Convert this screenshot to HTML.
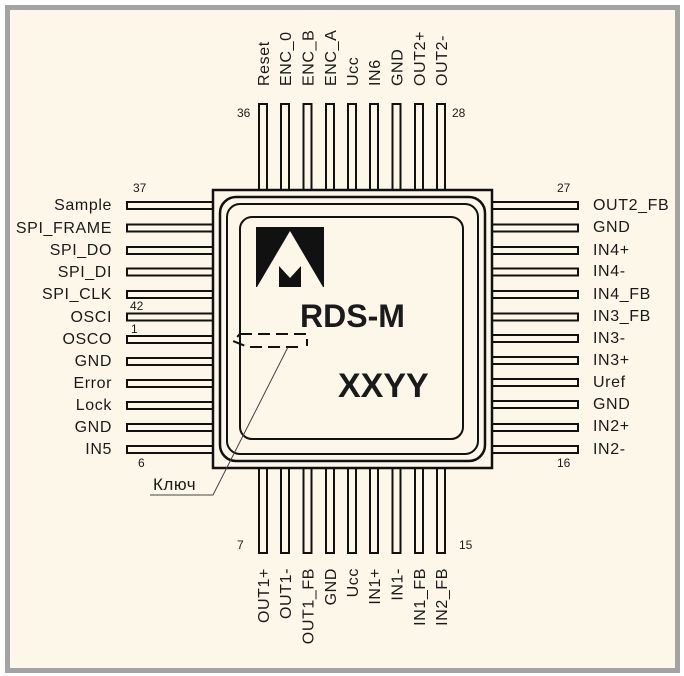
<!DOCTYPE html>
<html><head><meta charset="utf-8"><style>
html,body{margin:0;padding:0;background:#fff;}
svg{display:block;}
text{font-family:"Liberation Sans",Arial,sans-serif;fill:#1a1a1a;}
.lb{font-size:16px;letter-spacing:0.6px;}
</style></head><body>
<svg width="684" height="676" viewBox="0 0 684 676" xmlns="http://www.w3.org/2000/svg">
<rect x="0" y="0" width="684" height="676" fill="#ffffff"/>
<rect x="7.5" y="7.5" width="670" height="663" fill="#fdf7ea" stroke="#a3a3a3" stroke-width="5"/>
<g fill="#fdf7ea" stroke="#111" stroke-width="2">
<rect x="259" y="104" width="8" height="86"/><rect x="281" y="104" width="8" height="86"/><rect x="303.5" y="104" width="8" height="86"/><rect x="326" y="104" width="8" height="86"/><rect x="348" y="104" width="8" height="86"/><rect x="370" y="104" width="8" height="86"/><rect x="392.5" y="104" width="8" height="86"/><rect x="415" y="104" width="8" height="86"/><rect x="437" y="104" width="8" height="86"/>
<rect x="259" y="468" width="8" height="85"/><rect x="281" y="468" width="8" height="85"/><rect x="303.5" y="468" width="8" height="85"/><rect x="326" y="468" width="8" height="85"/><rect x="348" y="468" width="8" height="85"/><rect x="370" y="468" width="8" height="85"/><rect x="392.5" y="468" width="8" height="85"/><rect x="415" y="468" width="8" height="85"/><rect x="437" y="468" width="8" height="85"/>
<rect x="127" y="202" width="87" height="7"/><rect x="127" y="224.5" width="87" height="7"/><rect x="127" y="247" width="87" height="7"/><rect x="127" y="268.5" width="87" height="7"/><rect x="127" y="291" width="87" height="7"/><rect x="127" y="313.5" width="87" height="7"/><rect x="127" y="336" width="87" height="7"/><rect x="127" y="358" width="87" height="7"/><rect x="127" y="380" width="87" height="7"/><rect x="127" y="402" width="87" height="7"/><rect x="127" y="424" width="87" height="7"/><rect x="127" y="446" width="87" height="7"/>
<rect x="491" y="202" width="87" height="7"/><rect x="491" y="224.5" width="87" height="7"/><rect x="491" y="247" width="87" height="7"/><rect x="491" y="268.5" width="87" height="7"/><rect x="491" y="291" width="87" height="7"/><rect x="491" y="313.5" width="87" height="7"/><rect x="491" y="335" width="87" height="7"/><rect x="491" y="357" width="87" height="7"/><rect x="491" y="379" width="87" height="7"/><rect x="491" y="401" width="87" height="7"/><rect x="491" y="424" width="87" height="7"/><rect x="491" y="446" width="87" height="7"/>
<rect x="213" y="190" width="279" height="278" stroke-width="2.5"/>
<rect x="220" y="197" width="265" height="264" rx="16" stroke-width="2.5"/>
<rect x="227" y="204" width="251" height="250" rx="13" stroke-width="2"/>
<rect x="240" y="217" width="223" height="222" rx="12" stroke-width="2"/>
</g>
<rect x="256" y="227" width="68" height="60" fill="#111"/>
<polygon points="290,231 257,287 323,287" fill="#fdf7ea"/>
<polygon points="279,287 279,266 290,278 301,266 301,287" fill="#111"/>
<text x="300" y="327" font-size="32" font-weight="bold">RDS-M</text>
<text x="338" y="397" font-size="34" font-weight="bold">XXYY</text>
<path d="M240,334 L307,334 L307,346 M298,347 L248,347 L233,341 L240,334" fill="none" stroke="#111" stroke-width="2" stroke-dasharray="12,6"/>
<polyline points="288,347 213,495 150,495" fill="none" stroke="#444" stroke-width="1"/>
<text x="153" y="490" font-size="17" letter-spacing="0.5">Ключ</text>
<g font-size="12">
<text x="237" y="117">36</text><text x="452" y="117">28</text>
<text x="133" y="192">37</text><text x="557" y="192">27</text>
<text x="130" y="310">42</text><text x="131" y="333">1</text>
<text x="138" y="467">6</text><text x="557" y="467">16</text>
<text x="237" y="549">7</text><text x="459" y="549">15</text>
</g>
<g class="lb" text-anchor="end">
<text x="112" y="210">Sample</text><text x="112" y="233">SPI_FRAME</text><text x="112" y="255">SPI_DO</text><text x="112" y="277">SPI_DI</text><text x="112" y="299">SPI_CLK</text><text x="112" y="322">OSCI</text><text x="112" y="344">OSCO</text><text x="112" y="366">GND</text><text x="112" y="388">Error</text><text x="112" y="410">Lock</text><text x="112" y="432">GND</text><text x="112" y="454">IN5</text>
</g>
<g class="lb">
<text x="593" y="210">OUT2_FB</text><text x="593" y="232">GND</text><text x="593" y="255">IN4+</text><text x="593" y="276">IN4-</text><text x="593" y="299">IN4_FB</text><text x="593" y="321">IN3_FB</text><text x="593" y="343">IN3-</text><text x="593" y="365">IN3+</text><text x="593" y="387">Uref</text><text x="593" y="409">GND</text><text x="593" y="431">IN2+</text><text x="593" y="454">IN2-</text>
</g>
<g class="lb">
<text transform="translate(269,86) rotate(-90)">Reset</text>
<text transform="translate(291,86) rotate(-90)">ENC_0</text>
<text transform="translate(313.5,86) rotate(-90)">ENC_B</text>
<text transform="translate(336,86) rotate(-90)">ENC_A</text>
<text transform="translate(358,86) rotate(-90)">Ucc</text>
<text transform="translate(380,86) rotate(-90)">IN6</text>
<text transform="translate(402.5,86) rotate(-90)">GND</text>
<text transform="translate(425,86) rotate(-90)">OUT2+</text>
<text transform="translate(447,86) rotate(-90)">OUT2-</text>
</g>
<g class="lb" text-anchor="end">
<text transform="translate(269,568) rotate(-90)">OUT1+</text>
<text transform="translate(291,568) rotate(-90)">OUT1-</text>
<text transform="translate(313.5,568) rotate(-90)">OUT1_FB</text>
<text transform="translate(336,568) rotate(-90)">GND</text>
<text transform="translate(358,568) rotate(-90)">Ucc</text>
<text transform="translate(380,568) rotate(-90)">IN1+</text>
<text transform="translate(402.5,568) rotate(-90)">IN1-</text>
<text transform="translate(425,568) rotate(-90)">IN1_FB</text>
<text transform="translate(447,568) rotate(-90)">IN2_FB</text>
</g>
</svg>
</body></html>
